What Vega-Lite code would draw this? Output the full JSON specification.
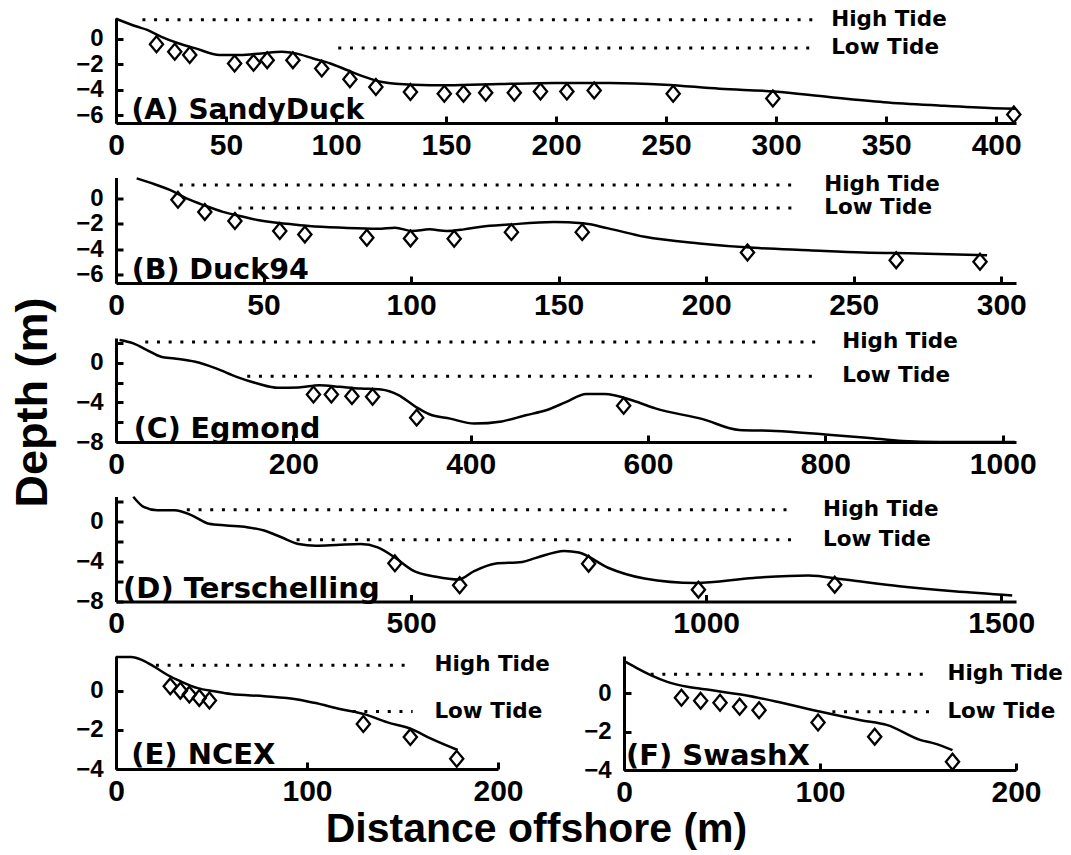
{
  "$schema": "https://vega.github.io/schema/vega-lite/v6.json",
  "background": "white",
  "padding": {"left": 9, "top": 8, "right": 0, "bottom": 0},
  "bounds": "flush",
  "spacing": 54.5,
  "title": {"text": "Distance offshore (m)", "orient": "bottom", "anchor": "middle", "font": "Liberation Sans", "fontWeight": "bold", "fontSize": 41, "color": "black", "offset": 3},
  "datasets": {
    "A_curve": [{"x":0,"y":1.56},{"x":9.4,"y":0.95},{"x":14.2,"y":0.69},{"x":20.4,"y":0.16},{"x":28.3,"y":-0.36},{"x":36.2,"y":-0.76},{"x":47.1,"y":-1.28},{"x":56.5,"y":-1.28},{"x":66,"y":-1.15},{"x":75.4,"y":-1.02},{"x":81.7,"y":-1.15},{"x":89.6,"y":-1.55},{"x":97.4,"y":-1.94},{"x":105.2,"y":-2.47},{"x":113,"y":-2.99},{"x":121,"y":-3.39},{"x":135,"y":-3.6},{"x":150.8,"y":-3.65},{"x":174.6,"y":-3.55},{"x":199.5,"y":-3.47},{"x":224.4,"y":-3.47},{"x":249.4,"y":-3.6},{"x":274.3,"y":-3.92},{"x":299.2,"y":-4.13},{"x":324,"y":-4.57},{"x":349,"y":-4.97},{"x":373.9,"y":-5.23},{"x":398.8,"y":-5.44},{"x":408.8,"y":-5.49}],
    "A_obs": [{"x":18.4,"y":-0.44},{"x":26.7,"y":-1.02},{"x":33.5,"y":-1.28},{"x":53.9,"y":-1.94},{"x":62.5,"y":-1.89},{"x":68.7,"y":-1.68},{"x":80.4,"y":-1.68},{"x":93.5,"y":-2.34},{"x":106.3,"y":-3.18},{"x":118.1,"y":-3.78},{"x":133.8,"y":-4.18},{"x":149.2,"y":-4.31},{"x":157.9,"y":-4.31},{"x":168,"y":-4.23},{"x":181,"y":-4.23},{"x":192.9,"y":-4.13},{"x":204.9,"y":-4.13},{"x":217.3,"y":-4.05},{"x":253.2,"y":-4.31},{"x":298.5,"y":-4.68},{"x":408,"y":-5.93}],
    "A_tide": [{"x":12,"x2":319,"y":1.48},{"x":101,"x2":319,"y":-0.73}],
    "A_tidelabel": [{"x":325,"y":1.48,"label":"High Tide"},{"x":325,"y":-0.73,"label":"Low Tide"}],
    "A_label": [{"x":7,"y":-6.6,"label":"(A) SandyDuck"}],
    "B_curve": [{"x":7,"y":1.63},{"x":12.9,"y":1.18},{"x":19,"y":0.64},{"x":24.5,"y":-0.03},{"x":30.4,"y":-0.56},{"x":36.2,"y":-1.04},{"x":42,"y":-1.36},{"x":47.9,"y":-1.68},{"x":53.7,"y":-1.89},{"x":59.6,"y":-2.03},{"x":65.4,"y":-2.16},{"x":77,"y":-2.3},{"x":88.7,"y":-2.38},{"x":94.6,"y":-2.3},{"x":100.4,"y":-2.56},{"x":106.2,"y":-2.43},{"x":112.1,"y":-2.56},{"x":117.9,"y":-2.43},{"x":123.8,"y":-2.22},{"x":133,"y":-2.05},{"x":148.3,"y":-1.85},{"x":158.2,"y":-1.95},{"x":166.8,"y":-2.35},{"x":179.2,"y":-3.02},{"x":197.7,"y":-3.55},{"x":216.2,"y":-3.9},{"x":234.7,"y":-4.09},{"x":253.2,"y":-4.27},{"x":271.7,"y":-4.35},{"x":295.2,"y":-4.49}],
    "B_obs": [{"x":21,"y":-0.08},{"x":30.1,"y":-1.04},{"x":40.3,"y":-1.76},{"x":55.5,"y":-2.56},{"x":64,"y":-2.83},{"x":85,"y":-3.1},{"x":99.8,"y":-3.15},{"x":114.6,"y":-3.18},{"x":134,"y":-2.65},{"x":158,"y":-2.65},{"x":214,"y":-4.27},{"x":264.4,"y":-4.88},{"x":292.8,"y":-5.01}],
    "B_tide": [{"x":21.6,"x2":231,"y":1.1},{"x":41.5,"x2":231,"y":-0.72}],
    "B_tidelabel": [{"x":240,"y":1.1,"label":"High Tide"},{"x":240,"y":-0.72,"label":"Low Tide"}],
    "B_label": [{"x":5.3,"y":-6.7,"label":"(B) Duck94"}],
    "C_curve": [{"x":4,"y":2.3},{"x":19.6,"y":1.96},{"x":35,"y":1.28},{"x":50.7,"y":0.61},{"x":66,"y":0.44},{"x":89.5,"y":0.1},{"x":112.8,"y":-0.57},{"x":136,"y":-1.42},{"x":159.4,"y":-2.09},{"x":182.7,"y":-2.53},{"x":206,"y":-2.5},{"x":229.3,"y":-2.26},{"x":252.6,"y":-2.43},{"x":276,"y":-2.6},{"x":299,"y":-2.7},{"x":318.6,"y":-3.27},{"x":338,"y":-4.45},{"x":353.5,"y":-5.2},{"x":376.8,"y":-5.64},{"x":404,"y":-6.14},{"x":435,"y":-5.92},{"x":462,"y":-5.3},{"x":485,"y":-4.8},{"x":508,"y":-3.95},{"x":530.3,"y":-3.15},{"x":550.8,"y":-3.15},{"x":583.6,"y":-3.83},{"x":608.3,"y":-4.61},{"x":661.6,"y":-5.69},{"x":702.7,"y":-6.78},{"x":743.7,"y":-6.88},{"x":797.2,"y":-7.22},{"x":846.5,"y":-7.56},{"x":887.5,"y":-7.9},{"x":928.5,"y":-8.0},{"x":1014,"y":-8.0}],
    "C_obs": [{"x":222.7,"y":-3.21},{"x":242.9,"y":-3.21},{"x":266.1,"y":-3.37},{"x":289.4,"y":-3.44},{"x":339.1,"y":-5.54},{"x":572.5,"y":-4.34}],
    "C_tide": [{"x":33,"x2":791,"y":2.1},{"x":148,"x2":791,"y":-1.35}],
    "C_tidelabel": [{"x":819,"y":2.1,"label":"High Tide"},{"x":819,"y":-1.35,"label":"Low Tide"}],
    "C_label": [{"x":20,"y":-8,"label":"(C) Egmond"}],
    "D_curve": [{"x":29.3,"y":2.52},{"x":46.8,"y":1.5},{"x":70.1,"y":1.16},{"x":99.3,"y":1.16},{"x":128.5,"y":0.65},{"x":157.6,"y":-0.2},{"x":186.9,"y":-0.37},{"x":221.8,"y":-0.54},{"x":251,"y":-0.88},{"x":280.2,"y":-1.55},{"x":309.3,"y":-2.23},{"x":338.5,"y":-2.4},{"x":373.5,"y":-2.33},{"x":414.4,"y":-2.23},{"x":443.5,"y":-2.57},{"x":472.6,"y":-3.59},{"x":501.8,"y":-4.85},{"x":542.6,"y":-5.52},{"x":580.6,"y":-5.8},{"x":606.8,"y":-4.95},{"x":641.9,"y":-4.2},{"x":688.5,"y":-4.03},{"x":710.4,"y":-3.65},{"x":759.7,"y":-2.92},{"x":784.4,"y":-3.08},{"x":833.7,"y":-4.61},{"x":895.5,"y":-5.69},{"x":982,"y":-6.14},{"x":1080.6,"y":-5.63},{"x":1173,"y":-5.39},{"x":1234.8,"y":-5.8},{"x":1327.3,"y":-6.47},{"x":1419.8,"y":-6.98},{"x":1518.6,"y":-7.39}],
    "D_obs": [{"x":472.6,"y":-4.17},{"x":582.3,"y":-6.37},{"x":800.8,"y":-4.2},{"x":986.9,"y":-6.81},{"x":1217.8,"y":-6.31}],
    "D_tide": [{"x":120,"x2":1146,"y":1.2},{"x":306,"x2":1150,"y":-1.8}],
    "D_tidelabel": [{"x":1198,"y":1.2,"label":"High Tide"},{"x":1198,"y":-1.8,"label":"Low Tide"}],
    "D_label": [{"x":12,"y":-8,"label":"(D) Terschelling"}],
    "E_curve": [{"x":0,"y":1.72},{"x":7.9,"y":1.72},{"x":14,"y":1.55},{"x":20.1,"y":1.22},{"x":27,"y":0.8},{"x":34,"y":0.47},{"x":42.8,"y":0.13},{"x":51.5,"y":-0.03},{"x":60.2,"y":-0.17},{"x":77.7,"y":-0.28},{"x":95.1,"y":-0.45},{"x":103.8,"y":-0.62},{"x":117.8,"y":-0.95},{"x":130,"y":-1.2},{"x":142.2,"y":-1.62},{"x":154.5,"y":-1.95},{"x":164.9,"y":-2.45},{"x":178.9,"y":-3.03}],
    "E_obs": [{"x":28.4,"y":0.22},{"x":33.7,"y":0.0},{"x":38.4,"y":-0.2},{"x":43.6,"y":-0.37},{"x":48.9,"y":-0.5},{"x":129.5,"y":-1.7},{"x":154.1,"y":-2.37},{"x":178.4,"y":-3.48}],
    "E_tide": [{"x":20.9,"x2":155.3,"y":1.3},{"x":123.9,"x2":155.3,"y":-1.07}],
    "E_tidelabel": [{"x":166.7,"y":1.3,"label":"High Tide"},{"x":166.7,"y":-1.07,"label":"Low Tide"}],
    "E_label": [{"x":8,"y":-4,"label":"(E) NCEX"}],
    "F_curve": [{"x":0.9,"y":1.64},{"x":6.8,"y":1.3},{"x":13.6,"y":0.95},{"x":22.1,"y":0.6},{"x":32.3,"y":0.34},{"x":44.2,"y":0.17},{"x":61.2,"y":-0.09},{"x":78.2,"y":-0.44},{"x":100.4,"y":-0.96},{"x":120.8,"y":-1.4},{"x":134.4,"y":-1.66},{"x":151.4,"y":-2.44},{"x":158.2,"y":-2.61},{"x":167.6,"y":-2.96}],
    "F_obs": [{"x":29.3,"y":-0.23},{"x":39.1,"y":-0.39},{"x":49,"y":-0.49},{"x":59,"y":-0.7},{"x":68.9,"y":-0.88},{"x":99,"y":-1.52},{"x":127.9,"y":-2.26},{"x":167.6,"y":-3.57}],
    "F_tide": [{"x":13.6,"x2":156.5,"y":1.0},{"x":106.3,"x2":156.5,"y":-0.96}],
    "F_tidelabel": [{"x":165,"y":1.0,"label":"High Tide"},{"x":165,"y":-0.96,"label":"Low Tide"}],
    "F_label": [{"x":1,"y":-4,"label":"(F) SwashX"}]
  },
  "vconcat": [
    {
      "width": 900, "height": 105,
      "encoding": {
        "x": {"field": "x", "type": "quantitative", "scale": {"domain": [0, 409], "nice": false, "zero": false}, "axis": {"title": null, "format": "d", "labelOverlap": false, "values": [0,50,100,150,200,250,300,350,400]}},
        "y": {"field": "y", "type": "quantitative", "scale": {"domain": [-6.6, 1.62], "nice": false, "zero": false}, "axis": {"title": null, "labelOverlap": false, "values": [-6,-4,-2,0]}}
      },
      "layer": [
        {"data": {"name": "A_curve"}, "mark": {"type": "line", "color": "black", "strokeWidth": 2.5, "interpolate": "monotone"}},
        {"data": {"name": "A_obs"}, "mark": {"type": "point", "shape": "M0,-1.2L1,0L0,1.2L-1,0Z", "filled": false, "color": "black", "strokeWidth": 2.3, "size": 175, "opacity": 1}},
        {"data": {"name": "A_tide"}, "mark": {"type": "rule", "color": "black", "strokeWidth": 3, "strokeDash": [3, 8.7]}, "encoding": {"x2": {"field": "x2"}}},
        {"data": {"name": "A_tidelabel"}, "mark": {"type": "text", "align": "left", "baseline": "middle", "font": "DejaVu Sans", "fontWeight": "bold", "fontSize": 21.5, "color": "black"}, "encoding": {"text": {"field": "label"}}},
        {"data": {"name": "A_label"}, "mark": {"type": "text", "align": "left", "baseline": "alphabetic", "dy": -4, "font": "DejaVu Sans", "fontWeight": "bold", "fontSize": 28, "color": "black"}, "encoding": {"text": {"field": "label"}}}
      ]
    },
    {
      "width": 900, "height": 105.5,
      "encoding": {
        "x": {"field": "x", "type": "quantitative", "scale": {"domain": [0, 305], "nice": false, "zero": false}, "axis": {"title": null, "format": "d", "labelOverlap": false, "values": [0,50,100,150,200,250,300]}},
        "y": {"field": "y", "type": "quantitative", "scale": {"domain": [-6.7, 1.7], "nice": false, "zero": false}, "axis": {"title": null, "labelOverlap": false, "values": [-6,-4,-2,0]}}
      },
      "layer": [
        {"data": {"name": "B_curve"}, "mark": {"type": "line", "color": "black", "strokeWidth": 2.5, "interpolate": "monotone"}},
        {"data": {"name": "B_obs"}, "mark": {"type": "point", "shape": "M0,-1.2L1,0L0,1.2L-1,0Z", "filled": false, "color": "black", "strokeWidth": 2.3, "size": 175, "opacity": 1}},
        {"data": {"name": "B_tide"}, "mark": {"type": "rule", "color": "black", "strokeWidth": 3, "strokeDash": [3, 8.7]}, "encoding": {"x2": {"field": "x2"}}},
        {"data": {"name": "B_tidelabel"}, "mark": {"type": "text", "align": "left", "baseline": "middle", "font": "DejaVu Sans", "fontWeight": "bold", "fontSize": 21.5, "color": "black"}, "encoding": {"text": {"field": "label"}}},
        {"data": {"name": "B_label"}, "mark": {"type": "text", "align": "left", "baseline": "alphabetic", "dy": -4, "font": "DejaVu Sans", "fontWeight": "bold", "fontSize": 28.5, "color": "black"}, "encoding": {"text": {"field": "label"}}}
      ]
    },
    {
      "width": 900, "height": 104,
      "encoding": {
        "x": {"field": "x", "type": "quantitative", "scale": {"domain": [0, 1015], "nice": false, "zero": false}, "axis": {"title": null, "format": "d", "labelOverlap": false, "values": [0,200,400,600,800,1000]}},
        "y": {"field": "y", "type": "quantitative", "scale": {"domain": [-8, 2.5], "nice": false, "zero": false}, "axis": {"title": "Depth (m)", "titleFontSize": 45, "labelOverlap": false, "values": [-8,-6,-4,-2,0,2], "labelExpr": "datum.value % 4 == 0 ? datum.label : ''", "titleX": -61, "titleY": 64, "titleAngle": 270, "titleBaseline": "bottom", "titleAlign": "center"}}
      },
      "layer": [
        {"data": {"name": "C_curve"}, "mark": {"type": "line", "color": "black", "strokeWidth": 2.5, "interpolate": "monotone"}},
        {"data": {"name": "C_obs"}, "mark": {"type": "point", "shape": "M0,-1.2L1,0L0,1.2L-1,0Z", "filled": false, "color": "black", "strokeWidth": 2.3, "size": 175, "opacity": 1}},
        {"data": {"name": "C_tide"}, "mark": {"type": "rule", "color": "black", "strokeWidth": 3, "strokeDash": [3, 8.7]}, "encoding": {"x2": {"field": "x2"}}},
        {"data": {"name": "C_tidelabel"}, "mark": {"type": "text", "align": "left", "baseline": "middle", "font": "DejaVu Sans", "fontWeight": "bold", "fontSize": 21.5, "color": "black"}, "encoding": {"text": {"field": "label"}}},
        {"data": {"name": "C_label"}, "mark": {"type": "text", "align": "left", "baseline": "alphabetic", "dy": -4, "font": "DejaVu Sans", "fontWeight": "bold", "fontSize": 28.5, "color": "black"}, "encoding": {"text": {"field": "label"}}}
      ]
    },
    {
      "width": 900, "height": 105,
      "encoding": {
        "x": {"field": "x", "type": "quantitative", "scale": {"domain": [0, 1525], "nice": false, "zero": false}, "axis": {"title": null, "format": "d", "labelOverlap": false, "values": [0,500,1000,1500]}},
        "y": {"field": "y", "type": "quantitative", "scale": {"domain": [-8, 2.54], "nice": false, "zero": false}, "axis": {"title": null, "labelOverlap": false, "values": [-8,-6,-4,-2,0,2], "labelExpr": "datum.value % 4 == 0 ? datum.label : ''"}}
      },
      "layer": [
        {"data": {"name": "D_curve"}, "mark": {"type": "line", "color": "black", "strokeWidth": 2.5, "interpolate": "monotone"}},
        {"data": {"name": "D_obs"}, "mark": {"type": "point", "shape": "M0,-1.2L1,0L0,1.2L-1,0Z", "filled": false, "color": "black", "strokeWidth": 2.3, "size": 175, "opacity": 1}},
        {"data": {"name": "D_tide"}, "mark": {"type": "rule", "color": "black", "strokeWidth": 3, "strokeDash": [3, 8.7]}, "encoding": {"x2": {"field": "x2"}}},
        {"data": {"name": "D_tidelabel"}, "mark": {"type": "text", "align": "left", "baseline": "middle", "font": "DejaVu Sans", "fontWeight": "bold", "fontSize": 21.5, "color": "black"}, "encoding": {"text": {"field": "label"}}},
        {"data": {"name": "D_label"}, "mark": {"type": "text", "align": "left", "baseline": "alphabetic", "dy": -4, "font": "DejaVu Sans", "fontWeight": "bold", "fontSize": 29, "color": "black"}, "encoding": {"text": {"field": "label"}}}
      ]
    },
    {
      "bounds": "flush",
      "spacing": 126,
      "hconcat": [
        {
          "width": 382, "height": 113,
          "encoding": {
            "x": {"field": "x", "type": "quantitative", "scale": {"domain": [0, 200], "nice": false, "zero": false}, "axis": {"title": null, "format": "d", "labelOverlap": false, "values": [0,100,200]}},
            "y": {"field": "y", "type": "quantitative", "scale": {"domain": [-4, 1.77], "nice": false, "zero": false}, "axis": {"title": null, "labelOverlap": false, "values": [-4,-2,0]}}
          },
          "layer": [
            {"data": {"name": "E_curve"}, "mark": {"type": "line", "color": "black", "strokeWidth": 2.5, "interpolate": "monotone"}},
            {"data": {"name": "E_obs"}, "mark": {"type": "point", "shape": "M0,-1.2L1,0L0,1.2L-1,0Z", "filled": false, "color": "black", "strokeWidth": 2.3, "size": 175, "opacity": 1}},
            {"data": {"name": "E_tide"}, "mark": {"type": "rule", "color": "black", "strokeWidth": 3, "strokeDash": [3, 8.7]}, "encoding": {"x2": {"field": "x2"}}},
            {"data": {"name": "E_tidelabel"}, "mark": {"type": "text", "align": "left", "baseline": "middle", "font": "DejaVu Sans", "fontWeight": "bold", "fontSize": 21.5, "color": "black"}, "encoding": {"text": {"field": "label"}}},
            {"data": {"name": "E_label"}, "mark": {"type": "text", "align": "left", "baseline": "alphabetic", "dy": -5, "font": "DejaVu Sans", "fontWeight": "bold", "fontSize": 29, "color": "black"}, "encoding": {"text": {"field": "label"}}}
          ]
        },
        {
          "width": 392, "height": 114,
          "encoding": {
            "x": {"field": "x", "type": "quantitative", "scale": {"domain": [0, 200], "nice": false, "zero": false}, "axis": {"title": null, "format": "d", "labelOverlap": false, "values": [0,100,200]}},
            "y": {"field": "y", "type": "quantitative", "scale": {"domain": [-4, 1.95], "nice": false, "zero": false}, "axis": {"title": null, "labelOverlap": false, "values": [-4,-2,0]}}
          },
          "layer": [
            {"data": {"name": "F_curve"}, "mark": {"type": "line", "color": "black", "strokeWidth": 2.5, "interpolate": "monotone"}},
            {"data": {"name": "F_obs"}, "mark": {"type": "point", "shape": "M0,-1.2L1,0L0,1.2L-1,0Z", "filled": false, "color": "black", "strokeWidth": 2.3, "size": 175, "opacity": 1}},
            {"data": {"name": "F_tide"}, "mark": {"type": "rule", "color": "black", "strokeWidth": 3, "strokeDash": [3, 8.7]}, "encoding": {"x2": {"field": "x2"}}},
            {"data": {"name": "F_tidelabel"}, "mark": {"type": "text", "align": "left", "baseline": "middle", "font": "DejaVu Sans", "fontWeight": "bold", "fontSize": 21.5, "color": "black"}, "encoding": {"text": {"field": "label"}}},
            {"data": {"name": "F_label"}, "mark": {"type": "text", "align": "left", "baseline": "alphabetic", "dy": -5, "font": "DejaVu Sans", "fontWeight": "bold", "fontSize": 29, "color": "black"}, "encoding": {"text": {"field": "label"}}}
          ]
        }
      ]
    }
  ],
  "config": {
    "view": {"stroke": null},
    "axis": {"domainColor": "black", "domainWidth": 3, "tickColor": "black", "tickWidth": 3, "tickSize": -7, "grid": false, "labelFont": "Liberation Sans", "labelFontWeight": "bold", "labelColor": "black", "labelFlush": false, "labelOverlap": false, "titleFont": "Liberation Sans", "titleFontWeight": "bold", "titleColor": "black", "titleFontSize": 41},
    "axisX": {"labelFontSize": 30, "labelPadding": 14},
    "axisY": {"labelFontSize": 24, "labelPadding": 20}
  }
}
